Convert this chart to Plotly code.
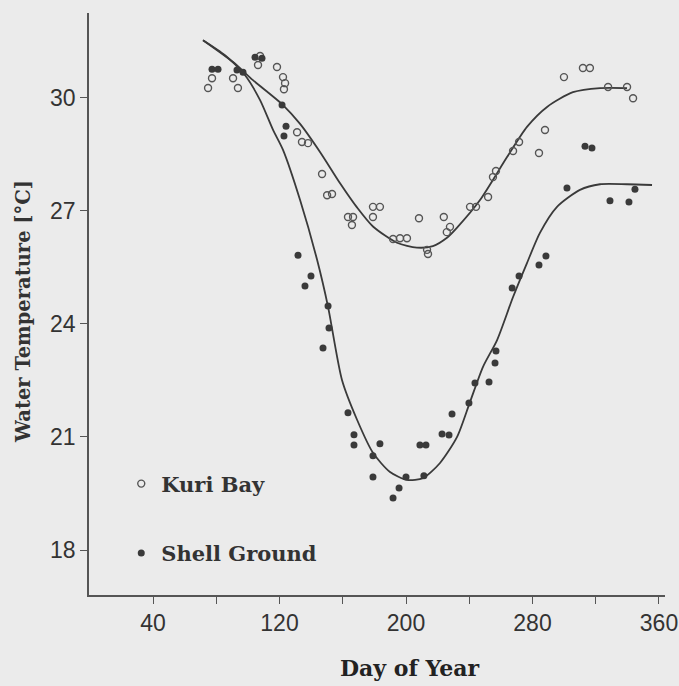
import plotly.graph_objects as go

# ---- data ----
kuri_day = [74.8, 77.3, 90.6, 93.7, 106.4, 107.7, 118.4, 122.2, 123.5, 122.8,
            131.1, 134.2, 138.0, 146.9, 150.1, 153.2, 163.3, 166.5, 165.8,
            179.1, 183.5, 179.1, 191.8, 196.2, 200.6, 208.2, 213.3, 213.9,
            223.9, 225.8, 227.8, 240.5, 244.3, 251.9, 255.0, 256.9, 267.7,
            271.5, 287.9, 284.1, 299.9, 311.9, 316.3, 327.8, 339.8, 343.6]
kuri_temp = [30.25, 30.51, 30.51, 30.25, 30.86, 31.10, 30.81, 30.54, 30.38, 30.22,
             29.08, 28.82, 28.79, 27.97, 27.41, 27.44, 26.83, 26.83, 26.62,
             27.10, 27.10, 26.83, 26.25, 26.27, 26.27, 26.80, 25.96, 25.85,
             26.83, 26.43, 26.57, 27.10, 27.10, 27.36, 27.89, 28.05, 28.58,
             28.82, 29.14, 28.53, 30.54, 30.78, 30.78, 30.28, 30.28, 29.98]

shell_day = [77.3, 81.1, 93.1, 96.9, 104.5, 108.9, 121.6, 124.1, 122.8, 131.7,
             139.9, 136.1, 150.7, 151.3, 147.5, 163.3, 167.1, 167.1, 183.5,
             179.1, 179.1, 200.0, 195.6, 191.8, 208.8, 212.6, 211.3, 222.8,
             227.2, 229.1, 239.8, 243.6, 252.5, 256.3, 256.9, 267.1, 271.5,
             284.1, 288.5, 301.8, 313.2, 317.6, 329.0, 341.0, 344.8]
shell_temp = [30.75, 30.75, 30.73, 30.67, 31.07, 31.04, 29.80, 29.24, 28.98, 25.82,
              25.27, 25.00, 24.47, 23.89, 23.36, 21.64, 21.06, 20.79, 20.82,
              20.50, 19.94, 19.94, 19.65, 19.38, 20.79, 20.79, 19.97, 21.08,
              21.05, 21.61, 21.90, 22.43, 22.46, 22.96, 23.28, 24.95, 25.27,
              25.56, 25.80, 27.60, 28.71, 28.66, 27.26, 27.23, 27.57]

kuri_fit_day = [71.6, 90.6, 103.2, 122.2, 133.0, 145.7, 158.4, 169.1, 179.1,
                194.3, 206.9, 217.0, 225.9, 232.3, 246.8, 263.9, 276.5, 289.2,
                305.6, 322.7, 339.8]
kuri_fit_temp = [31.52, 30.94, 30.46, 29.80, 29.30, 28.55, 27.72, 27.08, 26.58,
                 26.15, 26.02, 26.06, 26.28, 26.55, 27.28, 28.42, 29.22, 29.75,
                 30.14, 30.25, 30.25]

shell_fit_day = [71.6, 85.5, 98.2, 107.7, 115.9, 122.2, 133.0, 143.8, 150.7,
                 159.5, 169.1, 179.1, 189.9, 200.6, 210.8, 221.5, 232.3, 240.5,
                 248.7, 257.6, 267.7, 276.5, 284.7, 295.5, 310.0, 322.7, 339.8,
                 355.6]
shell_fit_temp = [31.52, 31.12, 30.59, 29.93, 29.14, 28.61, 27.28, 25.69, 24.45,
                  22.51, 21.45, 20.58, 20.07, 19.86, 19.91, 20.31, 21.00, 21.93,
                  22.86, 23.57, 24.71, 25.61, 26.41, 27.10, 27.55, 27.70, 27.70,
                  27.68]

x_tick_vals = [40, 80, 120, 160, 200, 240, 280, 320, 360]
x_tick_text = ["40", "", "120", "", "200", "", "280", "", "360"]
y_tick_vals = [18, 21, 24, 27, 30]
y_tick_text = ["18", "21", "24", "27", "30"]

series_names = ["Kuri Bay", "Shell Ground"]
x_title = "Day of Year"
y_title = "Water Temperature [°C]"

# ---- figure ----
ink = "#333333"
bg = "#ebebeb"
serif = "DejaVu Serif"

fig = go.Figure()
fig.add_trace(go.Scatter(x=kuri_fit_day, y=kuri_fit_temp, mode="lines",
                         line=dict(color="#3a3a3a", width=1.8, shape="spline", smoothing=0.7),
                         showlegend=False, hoverinfo="skip"))
fig.add_trace(go.Scatter(x=shell_fit_day, y=shell_fit_temp, mode="lines",
                         line=dict(color="#3a3a3a", width=1.8, shape="spline", smoothing=0.7),
                         showlegend=False, hoverinfo="skip"))
fig.add_trace(go.Scatter(x=kuri_day, y=kuri_temp, mode="markers", name=series_names[0],
                         legendgroup="k",
                         marker=dict(symbol="circle-open", size=7, color="#555555",
                                     line=dict(width=1.4, color="#555555"))))
fig.add_trace(go.Scatter(x=shell_day, y=shell_temp, mode="markers", name=series_names[1],
                         legendgroup="s",
                         marker=dict(symbol="circle", size=7, color="#3a3a3a")))

axis_common = dict(showline=True, linecolor="#555555", linewidth=1.5,
                   ticks="outside", ticklen=7, tickwidth=1.3, tickcolor="#555555",
                   showgrid=False, zeroline=False, automargin=False,
                   tickfont=dict(family="Liberation Sans", size=23, color=ink))

fig.update_layout(
    width=679, height=686,
    margin=dict(l=89, r=14, t=13, b=91),
    paper_bgcolor=bg, plot_bgcolor=bg,
    xaxis=dict(range=[-0.5, 363.8], tickmode="array", tickvals=x_tick_vals,
               ticktext=x_tick_text, **axis_common),
    yaxis=dict(range=[16.81, 32.24], tickmode="array", tickvals=y_tick_vals,
               ticktext=y_tick_text, **axis_common),
    legend=dict(x=0.056, y=0.226, xanchor="left", yanchor="top",
                bgcolor="rgba(0,0,0,0)", traceorder="grouped", tracegroupgap=39,
                font=dict(family=serif, size=21, color=ink, weight="bold")),
    annotations=[
        dict(text=x_title, xref="paper", yref="paper", x=0.558, y=-0.125,
             xanchor="center", yanchor="middle", showarrow=False,
             font=dict(family=serif, size=22, color="#222222", weight="bold")),
        dict(text=y_title, xref="paper", yref="paper", x=-0.113, y=0.488,
             xanchor="center", yanchor="middle", showarrow=False, textangle=-90,
             font=dict(family=serif, size=19.5, color="#333333", weight="bold")),
    ],
)

fig.write_html("out.html")
